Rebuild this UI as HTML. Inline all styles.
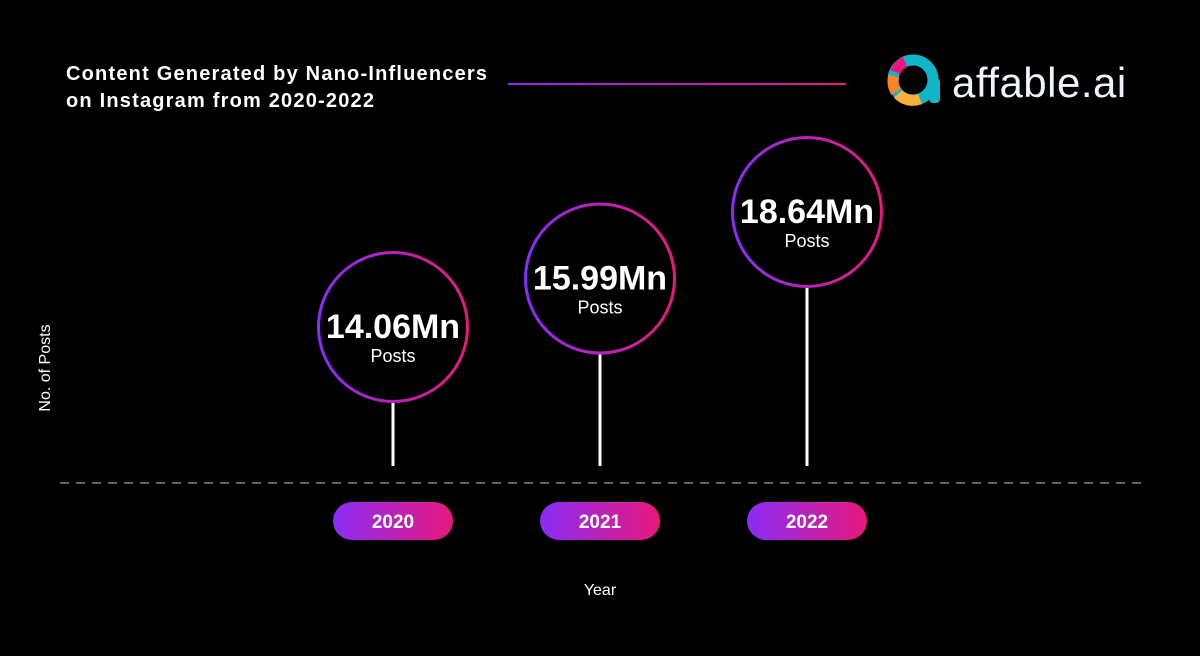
<!DOCTYPE html>
<html><head><meta charset="utf-8">
<style>
html,body{margin:0;padding:0;background:#000;}
body{width:1200px;height:651px;position:relative;overflow:hidden;font-family:"Liberation Sans",sans-serif;}
</style></head>
<body>
<svg width="1200" height="651" viewBox="0 0 1200 651" xmlns="http://www.w3.org/2000/svg">
<defs>
<linearGradient id="g" x1="0" y1="0" x2="1" y2="0">
<stop offset="0" stop-color="#8a2cf6"/><stop offset="1" stop-color="#e8187c"/>
</linearGradient>
</defs>
<rect width="1200" height="651" fill="#000"/>
<text x="66" y="80" fill="#fff" font-size="20" font-weight="bold" letter-spacing="1.2">Content Generated by Nano-Influencers</text>
<text x="66" y="107" fill="#fff" font-size="20" font-weight="bold" letter-spacing="1.2">on Instagram from 2020-2022</text>
<rect x="508" y="83" width="338" height="2" fill="url(#g)"/>
<g>
<circle cx="913" cy="80" r="20" fill="none" stroke="#0fb5c8" stroke-width="11"/>
<path d="M895 72 A20 20 0 0 1 905 62" stroke="#e6177f" stroke-width="11" fill="none"/>
<path d="M896 92 A20 20 0 0 1 894 76" stroke="#f7862a" stroke-width="11" fill="none"/>
<path d="M920 99 A20 20 0 0 1 898 94" stroke="#fbb03b" stroke-width="11" fill="none"/>
<rect x="929" y="78" width="11" height="25" rx="4" fill="#0fb5c8"/>
<text x="952" y="97" fill="#eef2fb" font-size="42" letter-spacing="0.5">affable.ai</text>
</g>
<line x1="60" y1="483" x2="1142" y2="483" stroke="#9a9a9a" stroke-width="1.3" stroke-dasharray="9,7"/>
<text transform="translate(50,368) rotate(-90)" text-anchor="middle" fill="#fff" font-size="16">No. of Posts</text>
<text x="600" y="595" text-anchor="middle" fill="#fff" font-size="16">Year</text>
<g id="marks"></g>
</svg>
<script>
const categories = ["2020","2021","2022"];
const values = [14.06, 15.99, 18.64];
const labels = ["14.06Mn","15.99Mn","18.64Mn"];
const xPos = i => 393 + i * 207;
const yScale = v => 327 - (v - 14.06) * (115 / 4.58);
const NS = "http://www.w3.org/2000/svg";
const g = document.getElementById("marks");
function mk(tag, attrs){const e=document.createElementNS(NS,tag);for(const k in attrs)e.setAttribute(k,attrs[k]);g.appendChild(e);return e;}
categories.forEach((c,i)=>{
  const x = xPos(i), cy = yScale(values[i]), r = 76;
  const stick = mk("line",{x1:x,y1:cy+r,x2:x,y2:466,stroke:"#fff","stroke-width":3});
  
  
  const circ = mk("circle",{cx:x,cy:cy,r:r-1.5,fill:"#000",stroke:"url(#g)","stroke-width":3});
  
  
  const t = mk("text",{x:x,y:cy+11,"text-anchor":"middle",fill:"#fff","font-size":34,"font-weight":"bold"});
  t.textContent = labels[i];
  
  
  const p = mk("text",{x:x,y:cy+35,"text-anchor":"middle",fill:"#fff","font-size":18});
  p.textContent = "Posts";
  
  
  const pill = mk("rect",{x:x-60,y:502,width:120,height:38,rx:19,fill:"url(#g)"});
  
  
  const yt = mk("text",{x:x,y:528,"text-anchor":"middle",fill:"#fff","font-size":19,"font-weight":"bold"});
  yt.textContent = c;
  
  
});
</script>
</body></html>
